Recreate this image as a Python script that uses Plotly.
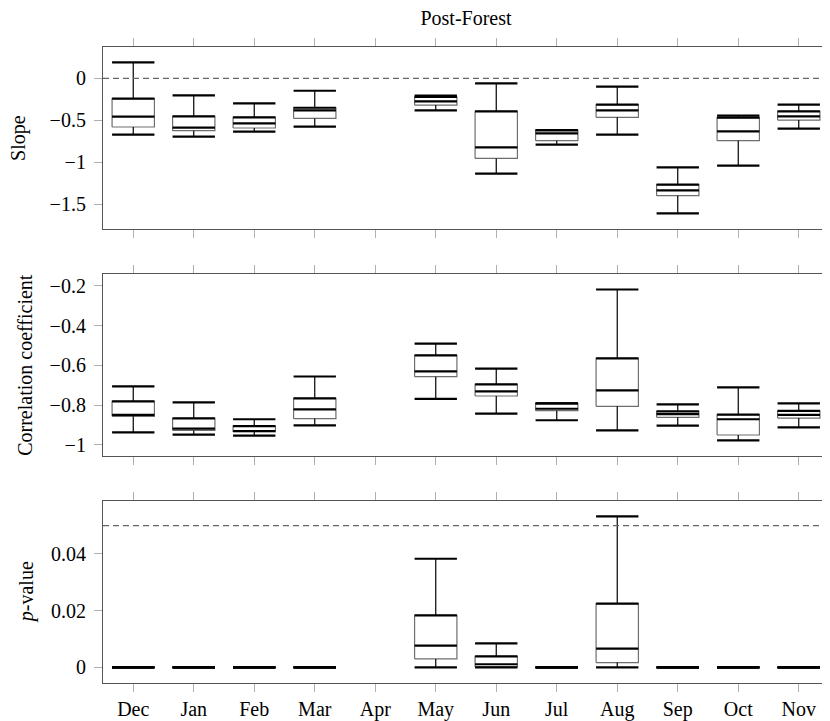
import plotly.graph_objects as go

months = ["Dec", "Jan", "Feb", "Mar", "Apr", "May", "Jun", "Jul", "Aug", "Sep", "Oct", "Nov"]

# Slope
slope_lo  = [-0.672, -0.696, -0.636, -0.576, None, -0.382, -1.137, -0.791, -0.672, -1.611, -1.042, -0.600]
slope_q1  = [-0.580, -0.624, -0.592, -0.477, None, -0.318, -0.955, -0.743, -0.465, -1.400, -0.743, -0.497]
slope_med = [-0.457, -0.588, -0.537, -0.382, None, -0.274, -0.823, -0.656, -0.382, -1.336, -0.632, -0.453]
slope_q3  = [-0.242, -0.453, -0.465, -0.350, None, -0.222, -0.394, -0.620, -0.314, -1.268, -0.469, -0.394]
slope_hi  = [0.191, -0.203, -0.298, -0.147, None, -0.206, -0.060, -0.616, -0.099, -1.062, -0.445, -0.314]

# Correlation coefficient
corr_lo  = [-0.937, -0.948, -0.953, -0.902, None, -0.768, -0.843, -0.876, -0.927, -0.903, -0.977, -0.912]
corr_q1  = [-0.856, -0.927, -0.935, -0.868, None, -0.657, -0.754, -0.828, -0.806, -0.861, -0.950, -0.865]
corr_med = [-0.849, -0.918, -0.930, -0.821, None, -0.630, -0.731, -0.818, -0.726, -0.845, -0.871, -0.849]
corr_q3  = [-0.781, -0.866, -0.905, -0.766, None, -0.550, -0.696, -0.791, -0.565, -0.831, -0.848, -0.829]
corr_hi  = [-0.706, -0.786, -0.871, -0.656, None, -0.491, -0.617, -0.791, -0.219, -0.796, -0.711, -0.791]

# p-value
p_lo  = [0, 0, 0, 0, None, 0.0, 0.0, 0, 0.0, 0, 0, 0]
p_q1  = [0, 0, 0, 0, None, 0.0030, 0.0002, 0, 0.0017, 0, 0, 0]
p_med = [0, 0, 0, 0, None, 0.0077, 0.0011, 0, 0.0066, 0, 0, 0]
p_q3  = [0, 0, 0, 0, None, 0.0183, 0.0039, 0, 0.0225, 0, 0, 0]
p_hi  = [0, 0, 0, 0, None, 0.0383, 0.0085, 0, 0.0532, 0, 0, 0]

slope_ref = 0.0
p_ref = 0.05

HALF = 0.35
FONT = "Liberation Serif"

fig = go.Figure()


def add_boxes(lo, q1, med, q3, hi, xa, ya):
    ox, oy, wx, wy, tx, ty = [], [], [], [], [], []
    for i in range(len(months)):
        if med[i] is None:
            continue
        a, b = i - HALF, i + HALF
        ox += [a, b, b, a, a, None]
        oy += [q1[i], q1[i], q3[i], q3[i], q1[i], None]
        wx += [i, i, None, i, i, None]
        wy += [q3[i], hi[i], None, q1[i], lo[i], None]
        for v in (hi[i], q3[i], med[i], lo[i]):
            tx += [a, b, None]
            ty += [v, v, None]
    common = dict(mode="lines", xaxis=xa, yaxis=ya, showlegend=False, hoverinfo="skip")
    fig.add_trace(go.Scatter(x=ox, y=oy, line=dict(color="#6e6e6e", width=1.2), **common))
    fig.add_trace(go.Scatter(x=wx, y=wy, line=dict(color="black", width=1.2), **common))
    fig.add_trace(go.Scatter(x=tx, y=ty, line=dict(color="black", width=2.2), **common))


add_boxes(slope_lo, slope_q1, slope_med, slope_q3, slope_hi, "x", "y")
add_boxes(corr_lo, corr_q1, corr_med, corr_q3, corr_hi, "x2", "y2")
add_boxes(p_lo, p_q1, p_med, p_q3, p_hi, "x3", "y3")

# reference lines
fig.add_trace(go.Scatter(x=[-0.5, 11.5], y=[slope_ref, slope_ref], mode="lines", xaxis="x", yaxis="y",
                         line=dict(color="#666666", width=1.2, dash="6px,4px"), showlegend=False, hoverinfo="skip"))
fig.add_trace(go.Scatter(x=[-0.5, 11.5], y=[p_ref, p_ref], mode="lines", xaxis="x3", yaxis="y3",
                         line=dict(color="#666666", width=1.2, dash="6px,4px"), showlegend=False, hoverinfo="skip"))

xcommon = dict(range=[-0.5, 11.5], tickvals=list(range(12)), ticktext=months, showline=True,
               linecolor="#555555", linewidth=1.2, mirror="allticks", ticks="outside", ticklen=8,
               tickcolor="#b0b0b0", tickwidth=1, showgrid=False, zeroline=False,
               tickfont=dict(family=FONT, size=20, color="black"))
ycommon = dict(showline=True, linecolor="#555555", linewidth=1.2, mirror=True, ticks="outside", ticklen=8,
               tickcolor="#b0b0b0", tickwidth=1, showgrid=False, zeroline=False, ticklabelstandoff=4,
               tickfont=dict(family=FONT, size=20, color="black"))

W, H = 822, 713
fig.update_layout(
    width=W, height=H,
    margin=dict(l=95, r=1, t=39, b=38),
    plot_bgcolor="white", paper_bgcolor="white",
    font=dict(family=FONT, size=20, color="black"),
    xaxis=dict(anchor="y", showticklabels=False, **xcommon),
    xaxis2=dict(anchor="y2", matches="x", showticklabels=False, **xcommon),
    xaxis3=dict(anchor="y3", matches="x", showticklabels=True, **xcommon),
    yaxis=dict(domain=[0.7143, 1.0], range=[-1.794, 0.375], dtick=0.5, tick0=0, anchor="x", **ycommon),
    yaxis2=dict(domain=[0.3574, 0.6431], range=[-1.054, -0.141], dtick=0.2, tick0=0, anchor="x2", **ycommon),
    yaxis3=dict(domain=[0.0, 0.2855], range=[-0.0055, 0.0585], dtick=0.02, tick0=0, anchor="x3", **ycommon),
    title=dict(text="Post-Forest", x=(95 + 363) / W, xanchor="center", y=1 - 3 / H, yanchor="top",
               yref="container", pad=dict(t=0, b=0), font=dict(family=FONT, size=20)),
)

ytitles = [("Slope", 0.8571, -84), ("Correlation coefficient", 0.5003, -78), ("<i>p</i>-value", 0.1428, -77)]
for txt, yy, xs in ytitles:
    fig.add_annotation(text=txt, xref="paper", yref="paper", x=0, y=yy, xshift=xs, textangle=-90,
                       showarrow=False, xanchor="center", yanchor="middle", font=dict(family=FONT, size=20))

fig.write_html("out.html")
